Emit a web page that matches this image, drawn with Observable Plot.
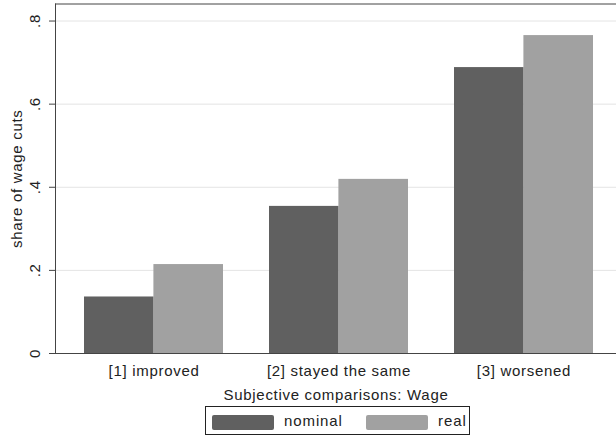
<!DOCTYPE html>
<html><head><meta charset="utf-8">
<script src="https://cdn.jsdelivr.net/npm/d3@7"></script>
<script src="https://cdn.jsdelivr.net/npm/@observablehq/plot@0.6"></script>
<style>
body{margin:0;background:#fff;font-family:"Liberation Sans",Arial,sans-serif;}
#wrap{position:relative;width:616px;height:439px;overflow:hidden;background:#fff;}
#wrap svg text{letter-spacing:0.7px;}
#legend{position:absolute;left:205px;top:406px;width:265px;height:29px;border:1px solid #222;box-sizing:border-box;font-size:15px;letter-spacing:0.9px;color:#222;}
#legend .sw{position:absolute;top:8px;height:15px;border-radius:2px;}
#legend .lb{position:absolute;top:5px;line-height:18px;}
</style></head><body><div id="wrap"></div>
<script>
const categories = ["[1] improved", "[2] stayed the same", "[3] worsened"];
const series = ["nominal", "real"];
const nominal = [0.136, 0.354, 0.688];
const real = [0.214, 0.419, 0.765];
const yTicks = [0, 0.2, 0.4, 0.6, 0.8];
const yTickLabels = ["0", ".2", ".4", ".6", ".8"];
const colors = ["#606060", "#a1a1a1"];

const data = categories.flatMap((c, i) => [
  {category: c, series: series[0], value: nominal[i]},
  {category: c, series: series[1], value: real[i]}
]);

const half = 69.4;
const plot = Plot.plot({
  width: 616, height: 405,
  marginLeft: 55, marginRight: 0, marginTop: 3.5, marginBottom: 52,
  style: {fontFamily: "Liberation Sans, Arial, sans-serif", fontSize: "15px", color: "#222", background: "#fff", overflow: "visible"},
  x: {domain: categories, paddingInner: 0.25, paddingOuter: 0.14, align: 0.56, label: null},
  y: {domain: [0, 0.841], label: null},
  color: {domain: series, range: colors},
  marks: [
    Plot.gridY(yTicks.slice(1), {stroke: "#e4e4e4", strokeOpacity: 1, strokeWidth: 1}),
    Plot.barY(data.filter(d => d.series === series[0]), {x: "category", y: "value", fill: "series", insetRight: half}),
    Plot.barY(data.filter(d => d.series === series[1]), {x: "category", y: "value", fill: "series", insetLeft: half}),
    Plot.axisX({tickSize: 0, tickPadding: 12, label: "Subjective comparisons: Wage", labelArrow: "none", labelAnchor: "center", labelOffset: 46}),
    Plot.axisY(yTicks, {tickFormat: d => yTickLabels[yTicks.indexOf(d)], tickRotate: -90, tickSize: 6, tickPadding: 10, stroke: "#444", label: "share of wage cuts", labelArrow: "none", labelAnchor: "center", labelOffset: 44}),
    Plot.ruleY([0], {stroke: "#444"}),
    Plot.frame({anchor: "left", stroke: "#444"}),
    Plot.frame({anchor: "top", stroke: "#444"})
  ]
});
const wrap = document.getElementById("wrap");
wrap.appendChild(plot);

const legend = document.createElement("div");
legend.id = "legend";
const sx = [6, 160], lx = [78, 232];
series.forEach((s, i) => {
  const sw = document.createElement("div");
  sw.className = "sw";
  sw.style.left = sx[i] + "px";
  sw.style.width = "62px";
  sw.style.background = colors[i];
  const lb = document.createElement("div");
  lb.className = "lb";
  lb.style.left = lx[i] + "px";
  lb.textContent = s;
  legend.appendChild(sw);
  legend.appendChild(lb);
});
wrap.appendChild(legend);
</script>
</body></html>
